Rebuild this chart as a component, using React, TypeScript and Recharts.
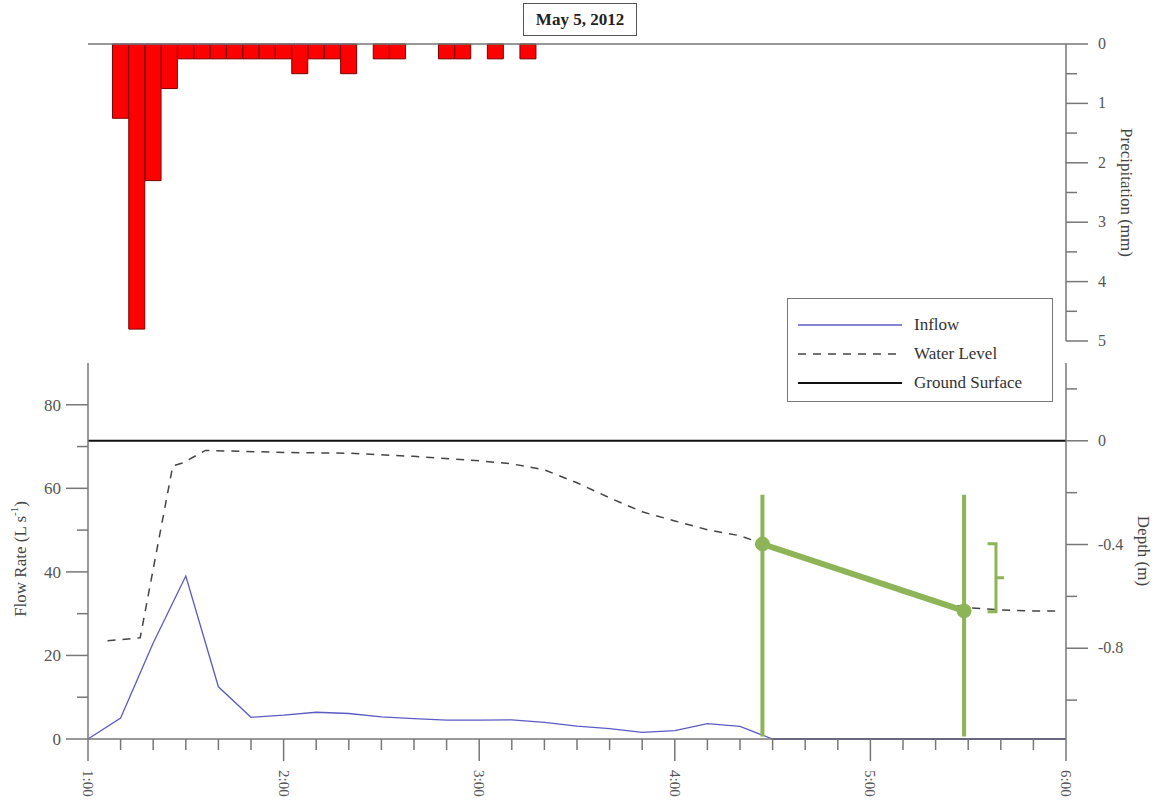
import React from 'react';
import {
    ComposedChart,
    Bar,
    Line,
    XAxis,
    YAxis,
    ReferenceLine,
    Label,
} from 'recharts';

// precipitation, 5-minute totals (mm)
const precipTimes = [
    '1:10', '1:15', '1:20', '1:25', '1:30', '1:35', '1:40', '1:45', '1:50', '1:55',
    '2:00', '2:05', '2:10', '2:15', '2:20', '2:30', '2:35', '2:50', '2:55', '3:05', '3:15',
];
const precipValues = [
    1.25, 4.8, 2.3, 0.75, 0.25, 0.25, 0.25, 0.25, 0.25, 0.25,
    0.25, 0.5, 0.25, 0.25, 0.5, 0.25, 0.25, 0.25, 0.25, 0.25, 0.25,
];

// inflow (L/s)
const inflowTimes = [
    '1:00', '1:10', '1:20', '1:30', '1:40', '1:50', '2:00', '2:10', '2:20', '2:30',
    '2:40', '2:50', '3:00', '3:10', '3:20', '3:30', '3:40', '3:50', '4:00', '4:10',
    '4:20', '4:30', '6:00',
];
const inflowValues = [
    0, 5, 23, 39, 12.5, 5.2, 5.7, 6.4, 6.1, 5.3,
    4.9, 4.5, 4.5, 4.6, 4.0, 3.1, 2.5, 1.6, 2.0, 3.7,
    3.0, 0, 0,
];

// water level depth (m)
const levelTimes = [
    '1:06', '1:16', '1:26', '1:29', '1:36', '2:00', '2:20', '2:40', '3:00', '3:10',
    '3:20', '3:30', '3:40', '3:50', '4:00', '4:10', '4:20', '4:30', '4:40', '4:50',
    '5:00', '5:10', '5:20', '5:30', '5:40', '5:50', '5:58',
];
const levelValues = [
    -0.771, -0.76, -0.097, -0.086, -0.037, -0.045, -0.048, -0.06, -0.077, -0.089,
    -0.112, -0.162, -0.22, -0.274, -0.309, -0.343, -0.366, -0.41, -0.447, -0.494,
    -0.536, -0.586, -0.621, -0.644, -0.652, -0.656, -0.656,
];

const groundTimes = ['1:00', '6:00'];
const groundValues = [0, 0];

// annotation (hours, depth)
const markerA = [{ t: 4.448, d: -0.208 }, { t: 4.448, d: -1.14 }];
const markerB = [{ t: 5.479, d: -0.208 }, { t: 5.479, d: -1.14 }];
const slope = [{ t: 4.448, d: -0.398 }, { t: 5.479, d: -0.656 }];
const bracket = [
    { t: 5.599, d: -0.397 }, { t: 5.642, d: -0.397 }, { t: 5.642, d: -0.528 },
    { t: 5.683, d: -0.528 }, { t: 5.642, d: -0.528 }, { t: 5.642, d: -0.659 },
    { t: 5.599, d: -0.659 },
];

const hourLabels = ['1:00', '2:00', '3:00', '4:00', '5:00', '6:00'];
const precipTicks = [0, 0.5, 1, 1.5, 2, 2.5, 3, 3.5, 4, 4.5, 5];
const flowTicks = [0, 10, 20, 30, 40, 50, 60, 70, 80];
const depthTicks = [0.2, 0, -0.2, -0.4, -0.6, -0.8, -1.0];

const toHours = (s: string) => {
    const [h, m] = s.split(':').map(Number);
    return h + m / 60;
};
const zip = (times: string[], vals: number[], key: string) =>
    times.map((t, i) => ({ t: toHours(t), [key]: vals[i] }));

const precipData = zip(precipTimes, precipValues, 'p');
const inflowData = zip(inflowTimes, inflowValues, 'q');
const levelData = zip(levelTimes, levelValues, 'd');
const groundData = zip(groundTimes, groundValues, 'd');

const hourTicks: number[] = [];
hourLabels.forEach((lab, i) => {
    const h = toHours(lab);
    hourTicks.push(h);
    if (i < hourLabels.length - 1) for (let k = 1; k < 6; k++) hourTicks.push(h + k / 6);
});

const FONT = '"Liberation Serif", "DejaVu Serif", serif';
const AXIS = '#777';
const TEXT = '#555';
const GREEN = '#8db457';
const BLUE = '#5b5bc4';

const isMult = (v: number, step: number) => Math.abs(v / step - Math.round(v / step)) < 1e-6;

const RightTick = (step: number, fmt: (v: number) => string) => (props: any) => {
    const { x, y, payload } = props;
    const major = isMult(payload.value, step);
    return (
        <g>
            <line x1={x} y1={y} x2={x + (major ? 22 : 11)} y2={y} stroke={AXIS} strokeWidth={1.5} />
            {major && (
                <text x={x + 32} y={y + 5} fontSize={16} fill={TEXT} fontFamily={FONT}>
                    {fmt(payload.value)}
                </text>
            )}
        </g>
    );
};

const LeftTick = (props: any) => {
    const { x, y, payload } = props;
    const major = isMult(payload.value, 20);
    return (
        <g>
            <line x1={x} y1={y} x2={x - (major ? 22 : 11)} y2={y} stroke={AXIS} strokeWidth={1.5} />
            {major && (
                <text x={x - 27} y={y + 6} fontSize={17} fill={TEXT} fontFamily={FONT} textAnchor="end">
                    {payload.value}
                </text>
            )}
        </g>
    );
};

const BottomTick = (props: any) => {
    const { x, y, payload } = props;
    const major = isMult(payload.value, 1);
    return (
        <g>
            <line x1={x} y1={y} x2={x} y2={y + (major ? 22 : 11)} stroke={AXIS} strokeWidth={1.5} />
            {major && (
                <text
                    x={x}
                    y={y + 31}
                    fontSize={15}
                    fill={TEXT}
                    fontFamily={FONT}
                    dominantBaseline="central"
                    transform={`rotate(90 ${x} ${y + 31})`}
                >
                    {`${Math.round(payload.value)}:00`}
                </text>
            )}
        </g>
    );
};

const fmtDepth = (v: number) => (Math.abs(v) < 1e-9 ? '0' : v.toFixed(1));

const Legend = () => {
    const rows = [
        { name: 'Inflow', stroke: BLUE, dash: undefined, w: 1.3 },
        { name: 'Water Level', stroke: '#444', dash: '8 7', w: 1.5 },
        { name: 'Ground Surface', stroke: '#111', dash: undefined, w: 2 },
    ];
    return (
        <div
            style={{
                position: 'absolute',
                left: 787,
                top: 298,
                width: 264,
                height: 102,
                border: '1.5px solid #777',
                background: '#fff',
                fontFamily: FONT,
            }}
        >
            {rows.map((r, i) => (
                <div key={r.name} style={{ position: 'absolute', left: 10, top: 16 + i * 29, height: 20, display: 'flex', alignItems: 'center' }}>
                    <svg width={104} height={6}>
                        <line x1={0} y1={3} x2={104} y2={3} stroke={r.stroke} strokeWidth={r.w} strokeDasharray={r.dash} />
                    </svg>
                    <span style={{ marginLeft: 12, fontSize: 17, color: '#333' }}>{r.name}</span>
                </div>
            ))}
        </div>
    );
};

export default function App() {
    return (
        <div style={{ position: 'absolute', left: 0, top: 0, width: 1163, height: 807, background: '#fff' }}>
            <div style={{ position: 'absolute', left: 0, top: 0 }}>
                <ComposedChart width={1163} height={350} data={precipData} margin={{ top: 44, right: 0, bottom: 9, left: 88 }}>
                    <XAxis type="number" dataKey="t" domain={[1, 6]} hide />
                    <YAxis
                        yAxisId="p"
                        orientation="right"
                        reversed
                        domain={[0, 5]}
                        ticks={precipTicks}
                        interval={0}
                        width={97}
                        tickSize={0}
                        tickMargin={0}
                        tickLine={false}
                        axisLine={{ stroke: AXIS, strokeWidth: 1.5 }}
                        tick={RightTick(1, (v) => String(v))}
                    >
                        <Label
                            content={(p: any) => {
                                const vb = p.viewBox;
                                const cx = vb.x + 60;
                                const cy = vb.y + vb.height / 2;
                                return (
                                    <text x={cx} y={cy} fontSize={17} fill="#444" fontFamily={FONT} textAnchor="middle" dominantBaseline="central" transform={`rotate(90 ${cx} ${cy})`}>
                                        Precipitation (mm)
                                    </text>
                                );
                            }}
                        />
                    </YAxis>
                    <ReferenceLine yAxisId="p" y={0} stroke={AXIS} strokeWidth={1.5} />
                    <Bar yAxisId="p" dataKey="p" fill="#ff0000" stroke="#7a0000" strokeWidth={1} barSize={16} isAnimationActive={false} />
                </ComposedChart>
            </div>

            <div style={{ position: 'absolute', left: 0, top: 343 }}>
                <ComposedChart width={1163} height={464} margin={{ top: 20, right: 0, bottom: 0, left: 0 }}>
                    <XAxis
                        type="number"
                        dataKey="t"
                        domain={[1, 6]}
                        ticks={hourTicks}
                        interval={0}
                        height={68}
                        tickSize={0}
                        tickMargin={0}
                        tickLine={false}
                        axisLine={{ stroke: AXIS, strokeWidth: 1.5 }}
                        tick={BottomTick}
                        allowDuplicatedCategory={false}
                    />
                    <YAxis
                        yAxisId="q"
                        orientation="left"
                        domain={[0, 90]}
                        ticks={flowTicks}
                        interval={0}
                        width={88}
                        tickSize={0}
                        tickMargin={0}
                        tickLine={false}
                        axisLine={{ stroke: AXIS, strokeWidth: 1.5 }}
                        tick={LeftTick}
                    >
                        <Label
                            content={(p: any) => {
                                const vb = p.viewBox;
                                const cx = vb.x + 20;
                                const cy = vb.y + vb.height / 2 + 8;
                                return (
                                    <text x={cx} y={cy} fontSize={17} fill="#444" fontFamily={FONT} textAnchor="middle" dominantBaseline="central" transform={`rotate(-90 ${cx} ${cy})`}>
                                        Flow Rate (L s
                                        <tspan dy={-6} fontSize={11}>-1</tspan>
                                        <tspan dy={6}>)</tspan>
                                    </text>
                                );
                            }}
                        />
                    </YAxis>
                    <YAxis
                        yAxisId="d"
                        orientation="right"
                        domain={[-1.15, 0.3]}
                        ticks={depthTicks}
                        interval={0}
                        width={97}
                        tickSize={0}
                        tickMargin={0}
                        tickLine={false}
                        axisLine={{ stroke: AXIS, strokeWidth: 1.5 }}
                        tick={RightTick(0.4, fmtDepth)}
                        allowDataOverflow
                    >
                        <Label
                            content={(p: any) => {
                                const vb = p.viewBox;
                                const cx = vb.x + 77;
                                const cy = vb.y + vb.height / 2;
                                return (
                                    <text x={cx} y={cy} fontSize={17} fill="#444" fontFamily={FONT} textAnchor="middle" dominantBaseline="central" transform={`rotate(90 ${cx} ${cy})`}>
                                        Depth (m)
                                    </text>
                                );
                            }}
                        />
                    </YAxis>

                    <Line yAxisId="d" data={groundData} dataKey="d" stroke="#111" strokeWidth={2} dot={false} isAnimationActive={false} />
                    <Line yAxisId="d" data={levelData} dataKey="d" stroke="#444" strokeWidth={1.5} strokeDasharray="8 7" dot={false} isAnimationActive={false} />
                    <Line yAxisId="q" data={inflowData} dataKey="q" stroke={BLUE} strokeWidth={1.3} dot={false} isAnimationActive={false} />
                    <ReferenceLine yAxisId="q" segment={[{ x: 4.5, y: 0 }, { x: 6, y: 0 }]} stroke="#3a3aa0" strokeWidth={2} />

                    <Line yAxisId="d" data={markerA} dataKey="d" stroke={GREEN} strokeWidth={4} dot={false} isAnimationActive={false} />
                    <Line yAxisId="d" data={markerB} dataKey="d" stroke={GREEN} strokeWidth={4} dot={false} isAnimationActive={false} />
                    <Line
                        yAxisId="d"
                        data={slope}
                        dataKey="d"
                        stroke={GREEN}
                        strokeWidth={6}
                        dot={{ r: 7, fill: GREEN, stroke: GREEN, strokeWidth: 1 }}
                        isAnimationActive={false}
                    />
                    <Line yAxisId="d" data={bracket} dataKey="d" stroke={GREEN} strokeWidth={3} dot={false} isAnimationActive={false} />
                </ComposedChart>
            </div>

            <div
                style={{
                    position: 'absolute',
                    left: 523,
                    top: 3,
                    width: 112,
                    height: 31,
                    border: '1.5px solid #555',
                    background: '#fff',
                    fontFamily: FONT,
                    fontWeight: 'bold',
                    fontSize: 17,
                    color: '#222',
                    display: 'flex',
                    alignItems: 'center',
                    justifyContent: 'center',
                }}
            >
                May 5, 2012
            </div>

            <Legend />
        </div>
    );
}
